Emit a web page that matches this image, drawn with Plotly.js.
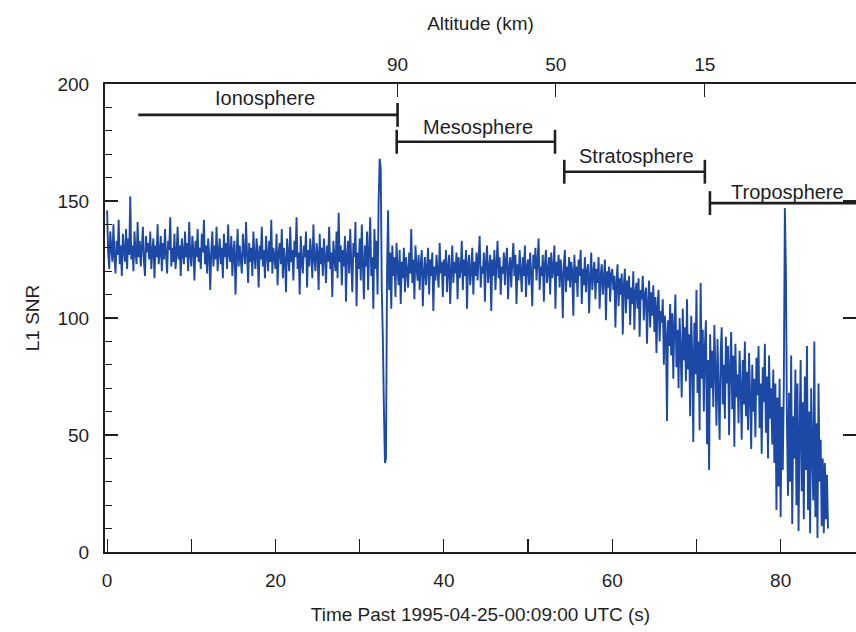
<!DOCTYPE html>
<html>
<head>
<meta charset="utf-8">
<script src="https://cdn.plot.ly/plotly-3.0.1.min.js"></script>
<style>
  html, body { margin: 0; padding: 0; background: #ffffff; }
  #chart { width: 856px; height: 632px; }
</style>
</head>
<body>
<div id="chart"></div>
<script>
// L1 SNR samples, eight per second starting at t = 0 s
const sampleStep = 0.125;
const snr = [
  146, 128, 121, 137, 130, 124, 140, 126,  119, 133, 127, 142, 123, 131, 118, 136,
  129, 124, 138, 121, 134, 127, 152, 125,  131, 120, 137, 128, 123, 141, 126, 133,
  122, 130, 139, 124, 118, 135, 128, 132,
  125, 137, 121, 129, 134, 117, 131, 126,  140, 123, 128, 135, 120, 132, 125, 138,
  127, 119, 133, 129, 143, 122, 130, 124,  136, 121, 127, 139, 125, 131, 118, 134,
  128, 123, 137, 126, 132, 120, 141, 127,
  122, 135, 129, 116, 133, 126, 138, 124,  130, 121, 136, 128, 142, 123, 131, 119,
  134, 127, 112, 129, 137, 122, 131, 125,  139, 120, 128, 134, 123, 130, 117, 136,
  126, 132, 121, 140, 127, 124, 135, 118,
  129, 133, 110, 126, 138, 122, 131, 125,  119, 136, 128, 123, 141, 127, 115, 132,
  124, 130, 118, 137, 126, 121, 134, 128,  113, 131, 125, 139, 122, 129, 117, 135,
  127, 120, 133, 124, 142, 119, 130, 126,
  121, 136, 114, 128, 132, 123, 138, 117,  130, 125, 111, 134, 127, 120, 139, 124,
  129, 116, 133, 126, 143, 121, 128, 110,  135, 124, 119, 131, 126, 137, 113, 129,
  122, 134, 127, 117, 140, 125, 120, 132,
  128, 112, 136, 123, 130, 118, 134, 126,  115, 131, 124, 139, 121, 128, 109, 133,
  126, 120, 137, 117, 145, 124, 131, 114,  129, 122, 135, 107, 127, 133, 119, 138,
  124, 111, 132, 126, 141, 105, 128, 121,
  134, 116, 140, 124, 108, 131, 122, 137,  112, 129, 143, 118, 126, 104, 138, 121,
  133, 110, 150, 168, 164, 112, 92, 62,    38, 40, 120, 146, 112, 128, 104, 131,
  118, 126, 109, 132, 121, 114, 129, 106,
  124, 117, 130, 111, 126, 120, 113, 128,  119, 138, 115, 125, 108, 131, 122, 116,
  127, 112, 123, 129, 105, 120, 126, 114,  121, 130, 110, 125, 118, 128, 103, 122,
  116, 127, 120, 113, 132, 119, 124, 109,
  125, 118, 129, 111, 122, 127, 106, 120,  131, 115, 124, 119, 128, 108, 126, 117,
  121, 133, 112, 125, 118, 129, 104, 123,  127, 114, 120, 130, 110, 124, 118, 128,
  116, 126, 135, 113, 122, 119, 128, 107,
  124, 131, 115, 121, 127, 103, 125, 118,  129, 112, 123, 133, 117, 126, 110, 122,
  119, 128, 114, 125, 130, 108, 121, 126,  113, 124, 132, 118, 127, 106, 123, 116,
  129, 120, 111, 126, 118, 131, 109, 122,
  125, 114, 128, 119, 105, 127, 121, 130,  116, 124, 134, 112, 122, 118, 127, 107,
  123, 129, 115, 120, 126, 110, 128, 117,  121, 131, 104, 124, 118, 127, 113, 125,
  119, 100, 123, 129, 111, 122, 116, 126,
  113, 124, 120, 101, 127, 115, 122, 109,  125, 118, 129, 106, 121, 114, 126, 111,
  120, 123, 102, 117, 128, 112, 119, 124,  108, 121, 115, 126, 104, 118, 123, 110,
  117, 125, 99, 120, 113, 122, 107, 119,
  121, 112, 118, 96, 115, 123, 105, 117,   110, 119, 93, 114, 121, 102, 116, 108,
  118, 97, 113, 106, 120, 95, 111, 115,    104, 117, 92, 112, 108, 118, 99, 110,
  113, 89, 107, 116, 96, 111, 101, 114,
  94, 109, 85, 105, 112, 90, 103, 98,      108, 80, 101, 93, 56, 99, 88, 106,
  84, 102, 74, 97, 110, 79, 95, 70,        100, 86, 66, 104, 82, 96, 73, 108,
  78, 93, 58, 101, 85, 47, 98, 76,
  112, 68, 90, 52, 115, 74, 95, 60,        88, 99, 46, 82, 35, 93, 70, 86,
  62, 97, 78, 54, 91, 68, 48, 85,          96, 63, 80, 57, 92, 72, 88, 50,
  79, 94, 61, 84, 45, 89, 66, 76,
  55, 86, 70, 48, 82, 63, 90, 58,          77, 52, 85, 66, 44, 80, 60, 74,
  49, 83, 67, 88, 53, 72, 42, 79,          64, 89, 51, 75, 40, 84, 57, 70,
  46, 78, 38, 72, 18, 66, 28, 74,
  15, 62, 35, 70, 147, 120, 55, 24,        68, 30, 84, 12, 58, 40, 78, 20,
  72, 9, 50, 82, 26, 64, 14, 75,           35, 88, 18, 60, 8, 70, 42, 22,
  90, 15, 55, 6, 72, 30, 48, 11,
  40, 8, 38, 14, 33, 10
];
const timeS = snr.map((_, i) => i * sampleStep);

// Axis ticks
const xTickVals = [0, 10, 20, 30, 40, 50, 60, 70, 80];
const xTickText = ['0', '', '20', '', '40', '', '60', '', '80'];
const yTickVals = [0, 50, 100, 150, 200];
const rightTickVals = [50, 100, 150];
const altitudeKm = ['90', '50', '15'];
const altitudeTime = [34.5, 53.3, 71.0];

// Atmospheric layers (time span in s, bar level in SNR units)
const layerNames = ['Ionosphere', 'Mesosphere', 'Stratosphere', 'Troposphere'];
const layerStart = [3.7, 34.4, 54.3, 71.6];
const layerEnd = [34.5, 53.2, 71.0, 88.95];
const layerLevel = [186.8, 175.3, 162.5, 149.1];
const layerLeftCap = [false, true, true, true];
const layerRightCap = [true, true, true, false];
const layerLabelX = [18.8, 44.0, 62.9, 80.8];
const layerLabelY = [194.2, 181.8, 169.2, 154.0];

const xRange = [-0.25, 88.95];
const yRange = [0, 200];
const capHalf = 5.1;
const ink = '#1f1f1f';
const fontFamily = 'Liberation Sans, Arial, Helvetica, sans-serif';

const shapes = [];
const annotations = [];
layerNames.forEach((name, i) => {
  const lineStyle = { color: ink, width: 2.6 };
  shapes.push({ type: 'line', xref: 'x', yref: 'y', x0: layerStart[i], x1: layerEnd[i],
                y0: layerLevel[i], y1: layerLevel[i], line: lineStyle });
  if (layerLeftCap[i]) {
    shapes.push({ type: 'line', xref: 'x', yref: 'y', x0: layerStart[i], x1: layerStart[i],
                  y0: layerLevel[i] - capHalf, y1: layerLevel[i] + capHalf, line: lineStyle });
  }
  if (layerRightCap[i]) {
    shapes.push({ type: 'line', xref: 'x', yref: 'y', x0: layerEnd[i], x1: layerEnd[i],
                  y0: layerLevel[i] - capHalf, y1: layerLevel[i] + capHalf, line: lineStyle });
  }
  annotations.push({ xref: 'x', yref: 'y', x: layerLabelX[i], y: layerLabelY[i], text: name,
                     showarrow: false, xanchor: 'center', yanchor: 'middle',
                     font: { family: fontFamily, size: 20, color: ink } });
});

const traces = [
  {
    x: timeS, y: snr, type: 'scatter', mode: 'lines',
    line: { color: '#1d49a6', width: 1.9, simplify: false },
    hoverinfo: 'x+y', showlegend: false
  },
  {
    x: [], y: [], type: 'scatter', mode: 'lines', xaxis: 'x2', yaxis: 'y2',
    showlegend: false, hoverinfo: 'skip'
  }
];

const tickFont = { family: fontFamily, size: 19, color: ink };
const titleFont = { family: fontFamily, size: 19, color: ink };

const layout = {
  width: 856, height: 632,
  margin: { l: 105, r: 0, t: 84, b: 80 },
  paper_bgcolor: '#ffffff', plot_bgcolor: '#ffffff',
  showlegend: false,
  xaxis: {
    range: xRange, showgrid: false, zeroline: false,
    showline: true, linecolor: ink, linewidth: 2, mirror: true,
    tickmode: 'array', tickvals: xTickVals, ticktext: xTickText,
    ticks: 'inside', ticklen: 13, tickwidth: 1.2, tickcolor: ink,
    ticklabelstandoff: 10,
    tickfont: tickFont,
    title: { text: 'Time Past 1995-04-25-00:09:00 UTC (s)', font: titleFont, standoff: 18 }
  },
  xaxis2: {
    overlaying: 'x', side: 'top', range: xRange, showgrid: false, zeroline: false,
    showline: false,
    tickmode: 'array', tickvals: altitudeTime, ticktext: altitudeKm,
    ticks: 'inside', ticklen: 13, tickwidth: 1.2, tickcolor: ink,
    ticklabelstandoff: 8,
    tickfont: tickFont,
    title: { text: 'Altitude (km)', font: titleFont, standoff: 18 }
  },
  yaxis: {
    range: yRange, showgrid: false, zeroline: false,
    showline: true, linecolor: ink, linewidth: 2,
    tickmode: 'array', tickvals: yTickVals,
    ticks: 'inside', ticklen: 13, tickwidth: 1.2, tickcolor: ink,
    minor: { dtick: 10, ticks: 'inside', ticklen: 7, tickwidth: 1.2, tickcolor: ink, showgrid: false },
    ticklabelstandoff: 10,
    tickfont: tickFont,
    title: { text: 'L1 SNR', font: titleFont, standoff: 13 }
  },
  yaxis2: {
    overlaying: 'y', side: 'right', range: yRange, showgrid: false, zeroline: false,
    showline: false, showticklabels: false,
    tickmode: 'array', tickvals: rightTickVals,
    ticks: 'inside', ticklen: 13, tickwidth: 1.2, tickcolor: ink
  },
  shapes: shapes,
  annotations: annotations
};

Plotly.newPlot('chart', traces, layout, { displayModeBar: false, staticPlot: true });
</script>
</body>
</html>
